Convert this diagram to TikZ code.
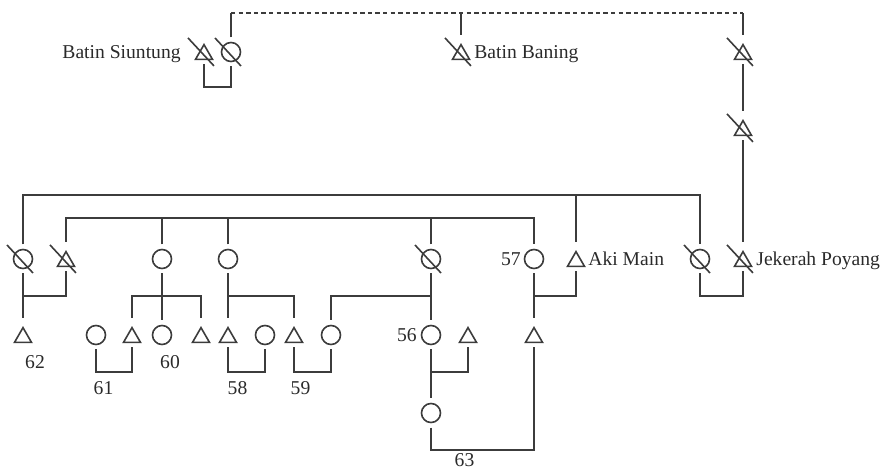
\documentclass[tikz,border=0pt]{standalone}
\usepackage{fontspec}
\setmainfont{Liberation Serif}
\usepackage{tikz}
\usetikzlibrary{shapes.geometric,positioning}
\definecolor{linec}{HTML}{3C3C3C}
\definecolor{textc}{HTML}{2A2A2A}
\tikzset{
  kin/.style={draw=linec,line width=0.8pt,inner sep=0pt,outer sep=2.5pt},
  fem/.style={kin,circle,minimum size=9.5pt},
  mal/.style={kin,regular polygon,regular polygon sides=3,minimum size=9.8pt,yshift=-1.225pt},
  tie/.style={draw=linec,line width=0.8pt},
  tiedash/.style={tie,dash pattern=on 2.2pt off 1.6pt},
  who/.style={font=\fontsize{9.8}{11}\selectfont,text=textc,inner sep=0pt,text height=0.66em,text depth=0pt},
}
\newcommand{\wed}[3]{\draw[tie] (#1.south) -- (#1.south |- #3) -| (#2.south);}

\begin{document}
\begin{tikzpicture}[x=0.5pt,y=-0.5pt]
  \useasboundingbox (0,0) rectangle (884,470);
  \coordinate (top) at (0,13);
  \coordinate (m1) at (0,87);
  \coordinate (sib1) at (0,195);
  \coordinate (sib2) at (0,218);
  \coordinate (m2) at (0,296);
  \coordinate (m3) at (0,372);
  \coordinate (m4) at (0,450);
  \foreach \n/\x/\y in {sw/231/52,a1/23/259,a3/162/259,a4/228/259,a5/431/259,p57/534/259,a8/700/259,
                        b1/96/335,b3/162/335,b6/265/335,b8/331/335,p56/431/335,d1/431/413}
    \node[fem] (\n) at (\x,\y) {};
  \foreach \n/\x/\y in {sm/204/52,baning/461/52,r1/743/52,r2/743/128,a2/66/259,aki/576/259,jekerah/743/259,
                        p62/23/335,b2/132/335,b4/201/335,b5/228/335,b7/294/335,b10/468/335,b11/534/335}
    \node[mal] (\n) at (\x,\y) {};
  \foreach \n in {sw,a1,a5,a8} \draw[tie] ([shift={(-16,-14)}]\n.center) -- ([shift={(10,14)}]\n.center);
  \foreach \n in {sm,baning,r1,r2,a2,jekerah} \draw[tie] ([shift={(-16,-16.5)}]\n.center) -- ([shift={(10,11.5)}]\n.center);

  \draw[tie] (sw.north) -- (sw.north |- top);
  \draw[tiedash] (sw.north |- top) -- (r1.north |- top);
  \draw[tie] (baning.north) -- (baning.north |- top);
  \draw[tie] (r1.north) -- (r1.north |- top);
  \wed{sm}{sw}{m1}
  \draw[tie] (r1.south) -- (r2.north);
  \draw[tie] (r2.south) -- (jekerah.north);

  \draw[tie] (a1.north) |- (a8.north |- sib1) -- (a8.north);
  \draw[tie] (aki.north) -- (aki.north |- sib1);
  \draw[tie] (a2.north) |- (p57.north |- sib2) -- (p57.north);
  \foreach \n in {a3,a4,a5} \draw[tie] (\n.north) -- (\n.north |- sib2);

  \wed{a2}{a1}{m2}
  \draw[tie] (a1.south) -- (p62.north);
  \draw[tie] (a3.south) -- (b3.north);
  \draw[tie] (b2.north) |- (b4.north |- m2) -- (b4.north);
  \draw[tie] (a4.south) -- (b5.north);
  \draw[tie] (b5.north |- m2) -| (b7.north);
  \draw[tie] (a5.south) -- (p56.north);
  \draw[tie] (p56.north |- m2) -| (b8.north);
  \wed{aki}{p57}{m2}
  \draw[tie] (p57.south) -- (b11.north);
  \wed{a8}{jekerah}{m2}

  \wed{b1}{b2}{m3}
  \wed{b5}{b6}{m3}
  \wed{b7}{b8}{m3}
  \wed{b10}{p56}{m3}
  \draw[tie] (p56.south) -- (d1.north);
  \wed{d1}{b11}{m4}

  \node[who,anchor=east] (l-sm) at (181,52) {Batin Siuntung};
  \node[who,anchor=west] (l-baning) at (474,52) {Batin Baning};
  \node[who,anchor=west] (l-aki) at (588,259) {Aki Main};
  \node[who,anchor=west] (l-jek) at (756,259) {Jekerah Poyang};
  \node[who,anchor=east] (l-57) at (521,259) {57};
  \node[who,anchor=east] (l-56) at (417,335) {56};
  \foreach \t/\x/\y in {62/35/362,60/170/362,61/103.5/388,58/237.5/388,59/300.5/388,63/464.5/460}
    \node[who] (l-\t) at (\x,\y) {\t};
\end{tikzpicture}
\end{document}
